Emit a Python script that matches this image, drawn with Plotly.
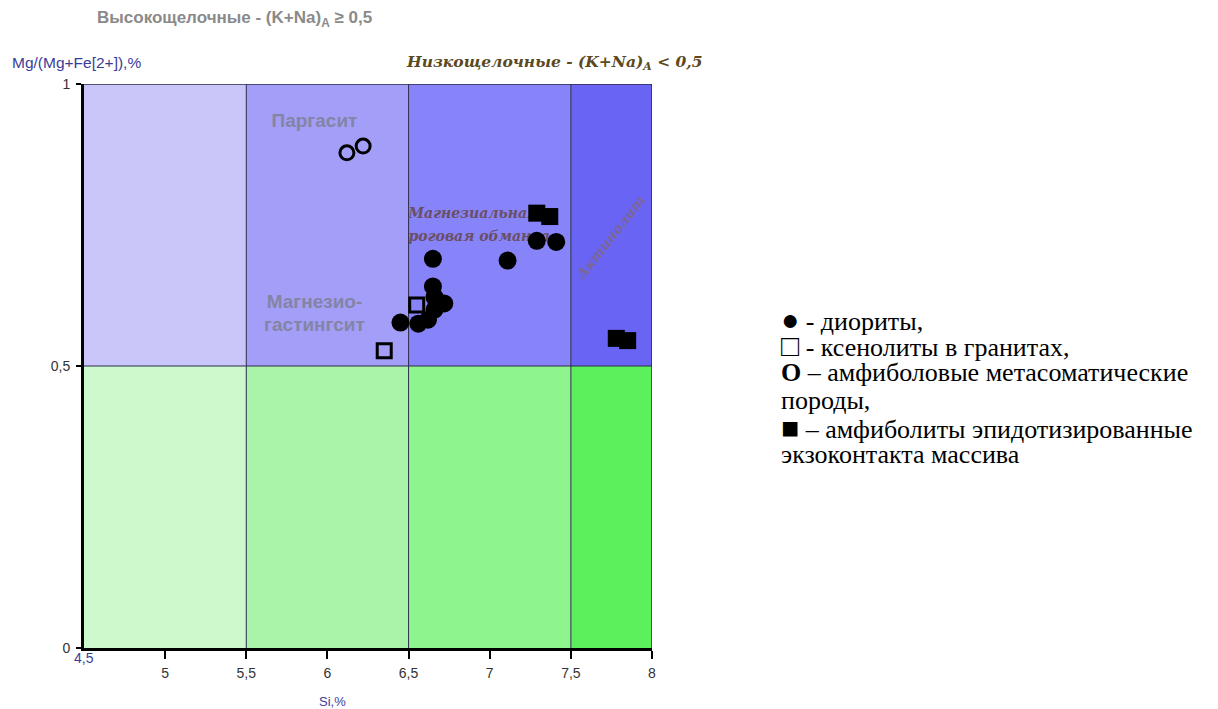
import plotly.graph_objects as go

# ---- data ----
si_bounds = [4.5, 5.5, 6.5, 7.5, 8.0]
upper_colors = ["#cac6f9", "#a39ef8", "#8783f8", "#6a64f4"]
lower_colors = ["#cdf9cd", "#a9f4a9", "#8ef48e", "#5cf05c"]

diorite_x = [6.65, 7.11, 7.29, 7.41, 6.65, 6.66, 6.72, 6.45, 6.56, 6.62, 6.66]
diorite_y = [0.690, 0.687, 0.722, 0.720, 0.641, 0.622, 0.611, 0.577, 0.575, 0.582, 0.600]

xenolith_x = [6.35, 6.55]
xenolith_y = [0.527, 0.608]

metasom_x = [6.12, 6.22]
metasom_y = [0.878, 0.890]

amphibolite_x = [7.29, 7.37, 7.78, 7.85]
amphibolite_y = [0.771, 0.765, 0.549, 0.545]

x_ticks = [5, 5.5, 6, 6.5, 7, 7.5, 8]
y_ticks = [0, 0.5, 1]

legend_lines = [
    "<span style='font-size:30px'>●</span> - диориты,",
    "<span style='font-size:30px'>□</span> - ксенолиты в гранитах,",
    "<b>O</b> – амфиболовые метасоматические",
    "породы,",
    "<span style='font-size:30px'>■</span> – амфиболиты эпидотизированные",
    "экзоконтакта массива",
]

fig = go.Figure()

# field labels (drawn under markers)
fig.add_trace(go.Scatter(
    x=[5.92, 5.92, 5.92], y=[0.933, 0.612, 0.570],
    text=["<b>Паргасит</b>", "<b>Магнезио-</b>", "<b>гастингсит</b>"],
    mode="text", textposition="middle center",
    textfont=dict(family="Arial, Liberation Sans", size=19, color="#8484a4"),
    hoverinfo="skip", showlegend=False))
fig.add_trace(go.Scatter(
    x=[6.5, 6.5], y=[0.768, 0.727],
    text=["<b><i>Магнезиальная</i></b>", "<b><i>роговая обманка</i></b>"],
    mode="text", textposition="middle right",
    textfont=dict(family="DejaVu Serif", size=14, color="#6a4f66"),
    hoverinfo="skip", showlegend=False))

fig.add_trace(go.Scatter(x=metasom_x, y=metasom_y, mode="markers",
    marker=dict(symbol="circle-open", size=14, color="black", line=dict(width=3, color="black")),
    showlegend=False))
fig.add_trace(go.Scatter(x=xenolith_x, y=xenolith_y, mode="markers",
    marker=dict(symbol="square-open", size=14, color="black", line=dict(width=3, color="black")),
    showlegend=False))
fig.add_trace(go.Scatter(x=diorite_x, y=diorite_y, mode="markers",
    marker=dict(symbol="circle", size=18, color="black"),
    showlegend=False))
fig.add_trace(go.Scatter(x=amphibolite_x, y=amphibolite_y, mode="markers",
    marker=dict(symbol="square", size=17, color="black"),
    showlegend=False))

shapes = []
for i in range(4):
    shapes.append(dict(type="rect", xref="x", yref="y", x0=si_bounds[i], x1=si_bounds[i+1],
                       y0=0.5, y1=1, fillcolor=upper_colors[i], line=dict(width=0), layer="below"))
    shapes.append(dict(type="rect", xref="x", yref="y", x0=si_bounds[i], x1=si_bounds[i+1],
                       y0=0, y1=0.5, fillcolor=lower_colors[i], line=dict(width=0), layer="below"))
for xb in si_bounds[1:-1]:
    shapes.append(dict(type="line", xref="x", yref="y", x0=xb, x1=xb, y0=0, y1=1,
                       line=dict(color="#2c2c4c", width=1), layer="below"))
shapes.append(dict(type="line", xref="x", yref="y", x0=4.5, x1=8, y0=0.5, y1=0.5,
                   line=dict(color="#2c2c4c", width=1), layer="below"))
shapes.append(dict(type="line", xref="x", yref="y", x0=4.5, x1=8, y0=1, y1=1,
                   line=dict(color="#2c2c4c", width=1.5)))
shapes.append(dict(type="line", xref="x", yref="y", x0=8, x1=8, y0=0, y1=1,
                   line=dict(color="#2c2c4c", width=1.5)))

annotations = [
    dict(xref="paper", yref="paper", x=0.019, y=1.115, xanchor="left", yanchor="middle",
         text="<b>Высокощелочные - (K+Na)<sub>A</sub> ≥ 0,5</b>", showarrow=False,
         font=dict(family="Arial, Liberation Sans", size=17, color="#8a8a8a")),
    dict(xref="paper", yref="paper", x=-0.130, y=1.039, xanchor="left", yanchor="middle",
         text="Mg/(Mg+Fe[2+]),%", showarrow=False,
         font=dict(family="Arial, Liberation Sans", size=15.5, color="#3c3c98")),
    dict(xref="paper", yref="paper", x=1.093, y=1.039, xanchor="right", yanchor="middle",
         text="<b><i>Низкощелочные - (K+Na)<sub>A</sub> &lt; 0,5</i></b>", showarrow=False,
         font=dict(family="DejaVu Serif", size=15.5, color="#5b4a1e")),
    dict(xref="x", yref="y", x=7.748, y=0.728, text="<b><i>Актинолит</i></b>", showarrow=False,
         textangle=-52, font=dict(family="DejaVu Serif", size=14, color="#7e6880"), opacity=0.8),
    dict(xref="x", yref="paper", x=4.5, y=0.0, xanchor="center", yanchor="top",
         text="4,5", showarrow=False,
         font=dict(family="Arial, Liberation Sans", size=14, color="#3c3c98")),
    dict(xref="x", yref="paper", x=6.03, y=-0.078, xanchor="center", yanchor="top",
         text="Si,%", showarrow=False,
         font=dict(family="Arial, Liberation Sans", size=13, color="#3c3c98")),
]
legend_px = [319, 346, 372, 400, 427, 454]
for line, py in zip(legend_lines, legend_px):
    annotations.append(dict(xref="paper", yref="paper", x=(779 - 84) / 568, y=(648 - py) / 564,
                            xanchor="left", yanchor="middle", text=line, showarrow=False,
                            font=dict(family="Liberation Serif", size=26, color="black")))

fig.update_layout(
    width=1210, height=701,
    margin=dict(l=76, r=566, t=76, b=61),
    paper_bgcolor="white", plot_bgcolor="white",
    separators=", ",
    shapes=shapes, annotations=annotations,
    xaxis=dict(range=[4.5, 8], tickvals=x_ticks, showgrid=False, zeroline=False,
               showline=True, linewidth=3, linecolor="black",
               ticks="outside", ticklen=8, tickwidth=1.5, tickcolor="black",
               ticklabelstandoff=2,
               tickfont=dict(family="Arial, Liberation Sans", size=14, color="#333333")),
    yaxis=dict(range=[0, 1], tickvals=y_ticks, showgrid=False, zeroline=False,
               showline=True, linewidth=3, linecolor="black",
               ticks="outside", ticklen=5, tickwidth=1.5, tickcolor="black",
               ticklabelstandoff=3,
               tickfont=dict(family="Arial, Liberation Sans", size=14, color="#333333")),
)

fig.write_html("out.html")
